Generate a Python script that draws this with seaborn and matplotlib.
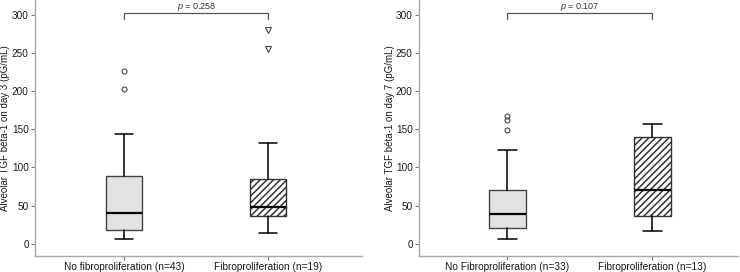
import matplotlib
matplotlib.use("Agg")
import matplotlib.pyplot as plt
import seaborn as sns

# ---------------- data ----------------
labels_day3 = ["No fibroproliferation (n=43)", "Fibroproliferation (n=19)"]
q1_day3 = [18.0, 36.8]
med_day3 = [40.7, 48.0]
q3_day3 = [88.8, 85.0]
whislo_day3 = [6.0, 14.0]
whishi_day3 = [143.5, 131.7]
fliers_day3 = [[203.0, 227.0], [256.0, 281.0]]
p_day3 = "0.258"
ylabel_day3 = "Alveolar TGF béta-1 on day 3 (pG/mL)"

labels_day7 = ["No Fibroproliferation (n=33)", "Fibroproliferation (n=13)"]
q1_day7 = [20.0, 36.4]
med_day7 = [39.0, 70.0]
q3_day7 = [71.0, 140.0]
whislo_day7 = [6.0, 16.7]
whishi_day7 = [122.6, 157.5]
fliers_day7 = [[149.0, 162.0, 167.6], []]
p_day7 = "0.107"
ylabel_day7 = "Alveolar TGF béta-1 on day 7 (pG/mL)"

yticks = [0, 50, 100, 150, 200, 250, 300]

# ---------------- style ----------------
sns.set_style("ticks")
plt.rcParams['font.family'] = ['Liberation Sans', 'DejaVu Sans']
plt.rcParams['hatch.linewidth'] = 1.1
plt.rcParams['mathtext.fontset'] = 'custom'
plt.rcParams['mathtext.it'] = 'Liberation Sans:italic'
plt.rcParams['mathtext.rm'] = 'Liberation Sans'

fig = plt.figure(figsize=(7.4, 2.72), dpi=100)
ax1 = fig.add_axes([35/740, 16/272, 327/740, 256/272])
ax2 = fig.add_axes([419/740, 16/272, 319/740, 256/272])

panels = [
    (ax1, labels_day3, q1_day3, med_day3, q3_day3, whislo_day3, whishi_day3,
     fliers_day3, p_day3, ylabel_day3, ["o", "v"], (-0.62, 1.65), 10),
    (ax2, labels_day7, q1_day7, med_day7, q3_day7, whislo_day7, whishi_day7,
     fliers_day7, p_day7, ylabel_day7, ["o", "o"], (-0.61, 1.59), 395),
]

spine_col = "#a8a8a8"
for (ax, labels, q1, med, q3, wlo, whi, fl, pval, ylab, mk, xlim, labx) in panels:
    stats = []
    for i in range(len(labels)):
        stats.append(dict(label=labels[i], q1=q1[i], med=med[i], q3=q3[i],
                          whislo=wlo[i], whishi=whi[i], fliers=fl[i]))
    bp = ax.bxp(stats, positions=[0, 1], widths=0.25, capwidths=0.125,
                patch_artist=True, showfliers=True,
                boxprops=dict(edgecolor="#444444", linewidth=1.0),
                medianprops=dict(color="black", linewidth=1.6),
                whiskerprops=dict(color="black", linewidth=1.1),
                capprops=dict(color="black", linewidth=1.1),
                flierprops=dict(marker="o", markerfacecolor="none",
                                markeredgecolor="#444444", markersize=3.6,
                                markeredgewidth=0.8, linestyle="none"))
    bp["boxes"][0].set_facecolor("#e2e2e2")
    bp["boxes"][1].set_facecolor("white")
    bp["boxes"][1].set_hatch("/////")
    bp["boxes"][1].set_edgecolor("#333333")
    for j, f in enumerate(bp["fliers"]):
        f.set_marker(mk[j])
        if mk[j] == "v":
            f.set_markersize(4.2)

    ax.set_xlim(*xlim)
    ax.set_ylim(-16.1, 319.7)
    ax.set_yticks(yticks)
    ax.set_yticklabels([str(t) for t in yticks], fontsize=7.2, color="#1a1a1a")
    ax.set_xticks([0, 1])
    ax.set_xticklabels(labels, fontsize=7.3, color="#1a1a1a")
    ax.set_ylabel(ylab, fontsize=7.0, color="#1a1a1a")
    # place label so its outer edge sits near the reference position
    bbox = ax.get_position()
    axw_px = bbox.width * 740
    axx_px = bbox.x0 * 740
    ax.yaxis.set_label_coords((labx - axx_px) / axw_px, 0.5)
    ax.tick_params(axis="both", length=3, width=0.8, color="#777777", pad=1.5)
    sns.despine(ax=ax)
    for s in ["left", "bottom"]:
        ax.spines[s].set_color(spine_col)
        ax.spines[s].set_linewidth(1.0)

    # significance bracket
    ax.plot([0, 0, 1, 1], [295, 302.6, 302.6, 295], color="#555555",
            linewidth=0.9, clip_on=False)
    ax.text(0.5, 319.0, r"$p$ = " + pval, ha="center", va="top",
            fontsize=6.5, color="#333333", clip_on=False)

fig.savefig("out.png", dpi=100)
